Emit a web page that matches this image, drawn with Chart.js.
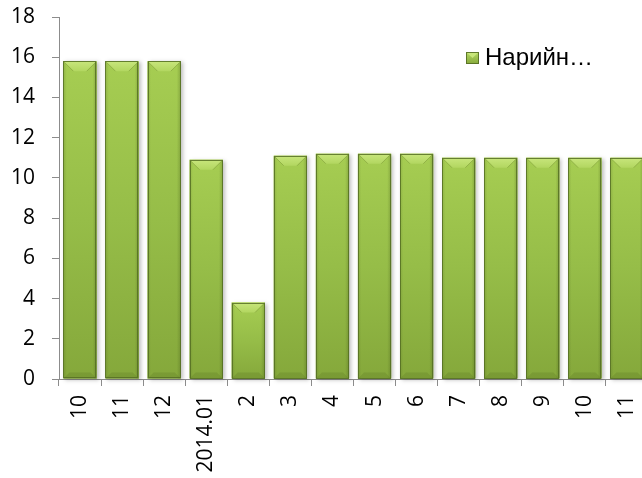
<!DOCTYPE html>
<html>
<head>
<meta charset="utf-8">
<script src="https://cdn.jsdelivr.net/npm/chart.js@4/dist/chart.umd.min.js"></script>
<style>
html,body{margin:0;padding:0;background:#fff;overflow:hidden;width:642px;height:478px;}
canvas{display:block;}
</style>
</head>
<body>
<canvas id="c" width="648" height="478"></canvas>
<script>
const categories = ["10","11","12","2014.01","2","3","4","5","6","7","8","9","10","11"];
const seriesLabel = "Нарийн…";
const seriesValues = [15.8,15.8,15.8,10.9,3.8,11.1,11.2,11.2,11.2,11.0,11.0,11.0,11.0,11.0];
const yTicks = [0,2,4,6,8,10,12,14,16,18];

const barDecor = {
  id:'barDecor',
  afterDatasetsDraw(chart){
    const ctx = chart.ctx;
    const meta = chart.getDatasetMeta(0);
    meta.data.forEach(el=>{
      const w = el.width, l = el.x - w/2, r = el.x + w/2, t = el.y, b = el.base;
      const h = b - t;
      ctx.save();
      ctx.shadowColor='rgba(0,0,0,0.25)';
      ctx.shadowBlur=4; ctx.shadowOffsetX=2; ctx.shadowOffsetY=1;
      const vg = ctx.createLinearGradient(0,t,0,b);
      vg.addColorStop(0,'#a6cd52');
      vg.addColorStop(0.5,'#96bd48');
      vg.addColorStop(1,'#85a83b');
      ctx.fillStyle=vg;
      ctx.fillRect(l,t,w,h);
      ctx.shadowColor='transparent';
      const hg = ctx.createLinearGradient(l,0,r,0);
      hg.addColorStop(0,'rgba(60,80,20,0.18)');
      hg.addColorStop(0.1,'rgba(60,80,20,0.0)');
      hg.addColorStop(0.88,'rgba(60,80,20,0.0)');
      hg.addColorStop(1,'rgba(60,80,20,0.28)');
      ctx.fillStyle=hg;
      ctx.fillRect(l,t,w,h);
      const bv = Math.min(10, h/2);
      ctx.beginPath();
      ctx.moveTo(l,t); ctx.lineTo(r,t); ctx.lineTo(r-bv,t+bv); ctx.lineTo(l+bv,t+bv); ctx.closePath();
      const tg = ctx.createLinearGradient(0,t,0,t+bv);
      tg.addColorStop(0,'#c8e67c'); tg.addColorStop(1,'#b2d660');
      ctx.fillStyle=tg; ctx.fill();
      ctx.strokeStyle='rgba(110,140,45,0.45)';
      ctx.lineWidth=1;
      ctx.beginPath();
      ctx.moveTo(l+1,t+1); ctx.lineTo(l+bv,t+bv);
      ctx.moveTo(r-1,t+1); ctx.lineTo(r-bv,t+bv);
      ctx.stroke();
      const bb = Math.min(6, h/3);
      ctx.beginPath();
      ctx.moveTo(l,b); ctx.lineTo(r,b); ctx.lineTo(r-bb,b-bb); ctx.lineTo(l+bb,b-bb); ctx.closePath();
      ctx.fillStyle='rgba(100,130,40,0.35)'; ctx.fill();
      ctx.strokeStyle='rgba(85,110,35,0.85)';
      ctx.lineWidth=1;
      ctx.strokeRect(Math.round(l)+0.5,Math.round(t)+0.5,Math.round(w)-1,Math.round(h)-1);
      ctx.restore();
    });
  }
};

const legendPlugin = {
  id:'legendBox',
  afterDraw(chart){
    const ctx = chart.ctx;
    const x = 466, y = 52, s = 12;
    ctx.save();
    const g = ctx.createLinearGradient(0,y,0,y+s);
    g.addColorStop(0,'#b4d864'); g.addColorStop(1,'#86a93b');
    ctx.fillStyle=g;
    ctx.fillRect(x,y,s+1,s);
    ctx.beginPath();
    ctx.moveTo(x,y); ctx.lineTo(x+s+1,y); ctx.lineTo(x+s/2+0.5,y+s/2); ctx.closePath();
    ctx.fillStyle='#c8e67a'; ctx.fill();
    ctx.strokeStyle='rgba(85,110,35,0.9)';
    ctx.strokeRect(x+0.5,y+0.5,s,s-1);
    ctx.fillStyle='#000';
    ctx.font='24px "Liberation Sans", Arial, sans-serif';
    ctx.textBaseline='alphabetic';
    ctx.fillText(chart.data.datasets[0].label, 485, 65);
    ctx.restore();
  }
};

new Chart(document.getElementById('c'), {
  type:'bar',
  data:{
    labels:categories,
    datasets:[{
      label:seriesLabel,
      data:seriesValues,
      backgroundColor:'#96bd48',
      borderWidth:0,
      categoryPercentage:1.0,
      barPercentage:0.79
    }]
  },
  options:{
    responsive:false,
    animation:false,
    layout:{padding:{top:17,right:0,left:0,bottom:0}},
    plugins:{legend:{display:false},tooltip:{enabled:false}},
    scales:{
      x:{
        offset:true,
        grid:{display:true,drawOnChartArea:false,offset:true,tickLength:7,color:'#8c8c8c'},
        border:{display:true,color:'#8c8c8c',width:1},
        ticks:{minRotation:90,maxRotation:90,autoSkip:false,padding:9,color:'#000',
          font:{family:'"Open Sans"',size:21}},
        afterFit(scale){ scale.height = 99; scale.paddingLeft = 0; scale.paddingRight = 0; }
      },
      y:{
        min:0,max:18,
        afterBuildTicks(scale){ scale.ticks = yTicks.map(v=>({value:v})); },
        grid:{display:true,drawOnChartArea:false,tickLength:7,color:'#8c8c8c'},
        border:{display:true,color:'#8c8c8c',width:1},
        ticks:{padding:17,color:'#000',font:{family:'"Open Sans"',size:21}},
        afterFit(scale){ scale.width = 59; scale.paddingTop = 0; scale.paddingBottom = 0; }
      }
    }
  },
  plugins:[barDecor,legendPlugin]
});
</script>
</body>
</html>
